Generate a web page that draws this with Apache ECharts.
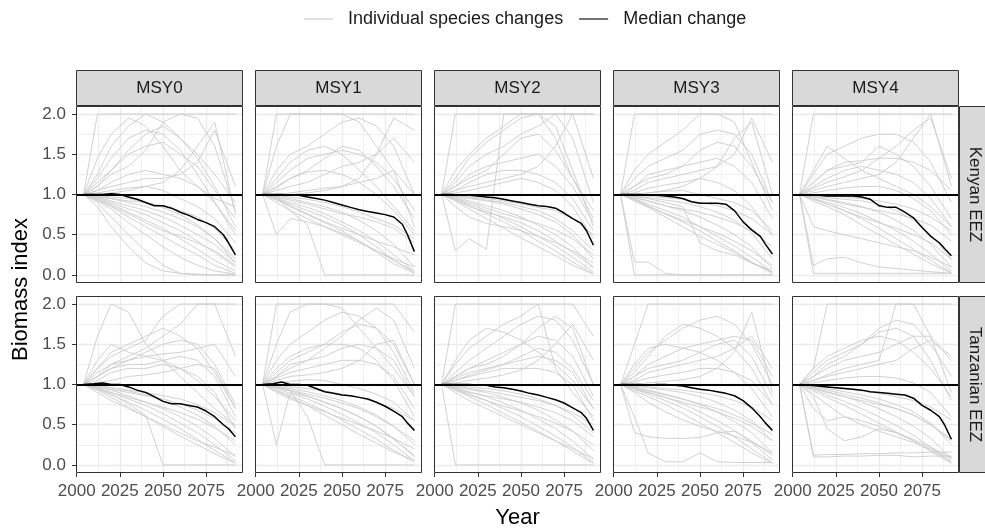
<!DOCTYPE html>
<html><head><meta charset="utf-8">
<script src="https://cdn.jsdelivr.net/npm/echarts@6/dist/echarts.min.js"></script>
<style>html,body{margin:0;padding:0;background:#fff}#chart{width:985px;height:530px}</style>
</head><body><div id="chart"></div>
<script>
// ---------------- data ----------------
const YEARS = [2004, 2012, 2020, 2030, 2040, 2050, 2060, 2070, 2080, 2092];
const MEDIAN_YEARS = [2004, 2010, 2015, 2020, 2025, 2030, 2035, 2040, 2045, 2050, 2055, 2060, 2065, 2070, 2075, 2080, 2085, 2088, 2092];
const MSY_LEVELS = ['MSY0', 'MSY1', 'MSY2', 'MSY3', 'MSY4'];
const REGIONS = ['Kenyan EEZ', 'Tanzanian EEZ'];
const X_TICKS = [2000, 2025, 2050, 2075];
const X_MINOR = [2012.5, 2037.5, 2062.5, 2087.5];
const Y_TICKS = [0, 0.5, 1, 1.5, 2];
const Y_MINOR = [0.25, 0.75, 1.25, 1.75];

const species_kenyan_msy0 = [
  [1.0, 2.0, 2.0, 2.0, 2.0, 2.0, 2.0, 2.0, 2.0, 2.0],
  [1.0, 1.45, 1.75, 1.95, 1.85, 1.6, 1.3, 1.1, 0.95, 0.85],
  [1.0, 1.2, 1.45, 1.7, 1.8, 1.75, 1.55, 1.25, 0.9, 0.5],
  [1.0, 1.15, 1.3, 1.5, 1.6, 1.65, 1.5, 1.35, 1.05, 0.7],
  [1.0, 1.1, 1.25, 1.35, 1.55, 1.9, 2.0, 1.95, 1.6, 0.8],
  [1.0, 1.05, 1.15, 1.25, 1.3, 1.25, 1.2, 1.1, 0.9, 0.55],
  [1.0, 1.05, 1.1, 1.15, 1.2, 1.2, 1.25, 1.4, 1.8, 1.1],
  [1.0, 1.02, 1.05, 1.08, 1.1, 1.05, 0.95, 0.85, 0.7, 0.4],
  [1.0, 1.0, 1.02, 1.05, 1.1, 1.15, 1.3, 1.6, 1.9, 0.75],
  [1.0, 0.98, 0.95, 0.9, 0.85, 0.78, 0.7, 0.6, 0.45, 0.2],
  [1.0, 0.96, 0.9, 0.82, 0.75, 0.65, 0.55, 0.42, 0.28, 0.1],
  [1.0, 0.95, 0.88, 0.78, 0.68, 0.58, 0.45, 0.32, 0.18, 0.05],
  [1.0, 0.93, 0.85, 0.72, 0.6, 0.48, 0.36, 0.25, 0.12, 0.02],
  [1.0, 0.92, 0.82, 0.65, 0.5, 0.35, 0.22, 0.12, 0.05, 0.01],
  [1.0, 0.9, 0.72, 0.5, 0.3, 0.12, 0.02, 0.0, 0.0, 0.0],
  [1.0, 0.97, 0.92, 0.86, 0.8, 0.72, 0.62, 0.5, 0.38, 0.15],
  [1.0, 0.85, 0.6, 0.35, 0.15, 0.05, 0.02, 0.01, 0.0, 0.0],
  [1.0, 0.99, 0.97, 0.95, 0.9, 0.84, 0.75, 0.62, 0.45, 0.15],
  [1.0, 0.94, 0.86, 0.76, 0.65, 0.55, 0.48, 0.4, 0.3, 0.12],
  [1.0, 1.1, 1.3, 1.55, 1.75, 1.85, 1.7, 1.45, 1.1, 0.6],
  [1.0, 1.25, 1.6, 1.85, 2.0, 1.9, 1.7, 1.5, 1.25, 0.9],
  [1.0, 0.97, 0.95, 0.92, 0.9, 0.86, 0.8, 0.72, 0.58, 0.3]
];
const species_kenyan_msy1 = [
  [1.0, 2.0, 2.0, 2.0, 2.0, 2.0, 2.0, 2.0, 2.0, 2.0],
  [1.0, 1.6, 2.0, 2.0, 2.0, 2.0, 1.9, 1.6, 1.3, 1.0],
  [1.0, 1.3, 1.5, 1.6, 1.75, 1.9, 1.95, 1.85, 1.6, 1.0],
  [1.0, 1.15, 1.3, 1.45, 1.5, 1.55, 1.5, 1.4, 1.2, 0.8],
  [1.0, 1.1, 1.2, 1.3, 1.45, 1.6, 1.55, 1.35, 1.1, 0.7],
  [1.0, 1.05, 1.1, 1.15, 1.25, 1.35, 1.4, 1.5, 1.7, 1.4],
  [1.0, 1.0, 1.02, 1.05, 1.08, 1.1, 1.15, 1.2, 1.3, 0.6],
  [1.0, 0.5, 0.7, 0.66, 0.6, 0.52, 0.42, 0.3, 0.18, 0.05],
  [1.0, 0.97, 0.8, 0.62, 0.0, 0.0, 0.0, 0.0, 0.0, 0.0],
  [1.0, 0.98, 0.95, 0.9, 0.85, 0.78, 0.68, 0.55, 0.38, 0.1],
  [1.0, 0.96, 0.9, 0.84, 0.76, 0.66, 0.55, 0.42, 0.25, 0.05],
  [1.0, 0.95, 0.88, 0.8, 0.72, 0.62, 0.5, 0.35, 0.18, 0.03],
  [1.0, 0.93, 0.85, 0.75, 0.65, 0.55, 0.42, 0.28, 0.14, 0.02],
  [1.0, 0.99, 0.97, 0.94, 0.9, 0.85, 0.78, 0.7, 0.62, 0.45],
  [1.0, 0.9, 0.8, 0.7, 0.6, 0.5, 0.4, 0.3, 0.2, 0.1],
  [1.0, 0.97, 0.93, 0.88, 0.82, 0.76, 0.72, 0.66, 0.58, 0.4],
  [1.0, 1.08, 1.2, 1.28, 1.3, 1.25, 1.15, 1.0, 0.8, 0.5],
  [1.0, 1.2, 1.4, 1.55, 1.6, 1.5, 1.3, 1.1, 0.85, 0.55],
  [1.0, 1.0, 1.0, 1.02, 1.05, 1.1, 1.2, 1.5, 1.95, 1.8],
  [1.0, 0.94, 0.86, 0.76, 0.66, 0.58, 0.5, 0.42, 0.35, 0.25]
];
const species_kenyan_msy2 = [
  [1.0, 2.0, 2.0, 2.0, 2.0, 2.0, 2.0, 2.0, 2.0, 2.0],
  [1.0, 0.3, 0.45, 0.32, 2.0, 2.0, 2.0, 2.0, 2.0, 2.0],
  [1.0, 1.3, 1.5, 1.7, 1.85, 2.0, 2.0, 1.7, 1.2, 0.7],
  [1.0, 1.15, 1.35, 1.5, 1.6, 1.75, 1.85, 2.0, 1.7, 0.9],
  [1.0, 1.1, 1.25, 1.35, 1.4, 1.45, 1.5, 1.35, 1.1, 0.65],
  [1.0, 1.05, 1.15, 1.25, 1.3, 1.3, 1.25, 1.15, 0.95, 0.55],
  [1.0, 1.05, 1.1, 1.15, 1.2, 1.25, 1.35, 1.6, 2.0, 1.2],
  [1.0, 1.02, 1.05, 1.1, 1.15, 1.2, 1.15, 1.05, 0.85, 0.45],
  [1.0, 0.98, 0.95, 0.92, 0.88, 0.82, 0.75, 0.66, 0.5, 0.2],
  [1.0, 0.97, 0.92, 0.86, 0.8, 0.72, 0.62, 0.5, 0.35, 0.08],
  [1.0, 0.95, 0.88, 0.8, 0.7, 0.6, 0.48, 0.36, 0.22, 0.04],
  [1.0, 0.94, 0.86, 0.76, 0.66, 0.55, 0.42, 0.3, 0.16, 0.02],
  [1.0, 0.92, 0.82, 0.7, 0.58, 0.46, 0.35, 0.24, 0.12, 0.01],
  [1.0, 0.85, 0.72, 0.64, 0.6, 0.55, 0.48, 0.4, 0.3, 0.15],
  [1.0, 0.99, 0.97, 0.95, 0.92, 0.88, 0.84, 0.8, 0.7, 0.5],
  [1.0, 0.96, 0.9, 0.83, 0.76, 0.7, 0.64, 0.56, 0.45, 0.25],
  [1.0, 1.1, 1.2, 1.3, 1.5, 1.7, 1.75, 1.55, 1.2, 0.8],
  [1.0, 0.93, 0.85, 0.78, 0.72, 0.65, 0.55, 0.42, 0.28, 0.1],
  [1.0, 1.2, 1.45, 1.65, 1.8, 1.95, 2.0, 1.85, 1.3, 0.6],
  [1.0, 0.98, 0.96, 0.93, 0.9, 0.85, 0.8, 0.7, 0.55, 0.3]
];
const species_kenyan_msy3 = [
  [1.0, 2.0, 2.0, 2.0, 2.0, 2.0, 2.0, 2.0, 2.0, 2.0],
  [1.0, 0.16, 0.16, 0.02, 0.0, 0.0, 0.0, 0.0, 0.0, 0.0],
  [1.0, 0.0, 0.0, 0.0, 0.0, 0.0, 0.0, 0.0, 0.0, 0.0],
  [1.0, 1.2, 1.35, 1.45, 1.55, 1.75, 1.8, 1.75, 1.5, 0.9],
  [1.0, 1.1, 1.25, 1.3, 1.35, 1.4, 1.45, 1.35, 1.15, 0.7],
  [1.0, 1.05, 1.15, 1.2, 1.25, 1.3, 1.35, 1.5, 1.95, 1.4],
  [1.0, 1.02, 1.08, 1.12, 1.15, 1.2, 1.15, 1.05, 0.85, 0.5],
  [1.0, 1.0, 1.02, 1.04, 1.05, 1.0, 0.95, 0.9, 0.8, 0.55],
  [1.0, 0.98, 0.96, 0.93, 0.9, 0.85, 0.78, 0.68, 0.52, 0.2],
  [1.0, 0.97, 0.92, 0.86, 0.8, 0.72, 0.62, 0.5, 0.35, 0.08],
  [1.0, 0.95, 0.88, 0.8, 0.72, 0.6, 0.48, 0.36, 0.22, 0.04],
  [1.0, 0.94, 0.86, 0.76, 0.66, 0.55, 0.42, 0.3, 0.16, 0.02],
  [1.0, 0.92, 0.84, 0.72, 0.6, 0.48, 0.38, 0.28, 0.15, 0.03],
  [1.0, 0.98, 0.95, 0.9, 0.85, 0.4, 0.3, 0.25, 0.15, 0.05],
  [1.0, 1.3, 1.5, 1.65, 1.8, 2.0, 2.0, 1.9, 1.4, 0.8],
  [1.0, 1.1, 1.2, 1.25, 1.35, 1.55, 1.65, 1.6, 1.35, 0.9],
  [1.0, 0.99, 0.98, 0.96, 0.94, 0.9, 0.86, 0.8, 0.7, 0.5],
  [1.0, 0.93, 0.85, 0.76, 0.68, 0.6, 0.52, 0.42, 0.3, 0.12],
  [1.0, 1.0, 1.02, 1.05, 1.1, 1.2, 1.35, 1.7, 1.9, 1.0],
  [1.0, 0.96, 0.92, 0.86, 0.82, 0.78, 0.72, 0.65, 0.55, 0.35]
];
const species_kenyan_msy4 = [
  [1.0, 2.0, 2.0, 2.0, 2.0, 2.0, 2.0, 2.0, 2.0, 2.0],
  [1.0, 0.02, 0.02, 0.02, 0.02, 0.02, 0.02, 0.02, 0.02, 0.02],
  [1.0, 0.12, 0.2, 0.22, 0.15, 0.1, 0.08, 0.06, 0.04, 0.02],
  [1.0, 1.25, 1.5, 1.6, 1.7, 1.75, 1.75, 1.65, 1.4, 0.9],
  [1.0, 1.15, 1.3, 1.4, 1.42, 1.45, 1.45, 1.4, 1.3, 1.05],
  [1.0, 1.1, 1.2, 1.3, 1.35, 1.3, 1.25, 1.15, 0.95, 0.6],
  [1.0, 1.05, 1.1, 1.15, 1.2, 1.25, 1.4, 1.7, 2.0, 1.1],
  [1.0, 1.02, 1.05, 1.08, 1.1, 1.1, 1.05, 0.95, 0.8, 0.5],
  [1.0, 0.98, 0.96, 0.94, 0.92, 0.88, 0.8, 0.68, 0.5, 0.2],
  [1.0, 0.97, 0.94, 0.9, 0.85, 0.78, 0.68, 0.55, 0.38, 0.1],
  [1.0, 0.95, 0.9, 0.84, 0.76, 0.66, 0.55, 0.42, 0.26, 0.05],
  [1.0, 0.94, 0.88, 0.8, 0.7, 0.58, 0.45, 0.32, 0.18, 0.03],
  [1.0, 0.92, 0.85, 0.75, 0.62, 0.5, 0.38, 0.26, 0.14, 0.02],
  [1.0, 0.6, 0.55, 0.5, 0.45, 0.4, 0.35, 0.3, 0.22, 0.1],
  [1.0, 0.99, 0.98, 0.97, 0.95, 0.92, 0.88, 0.82, 0.72, 0.55],
  [1.0, 1.3, 1.6, 1.45, 1.3, 1.2, 1.1, 1.0, 0.85, 0.6],
  [1.0, 1.08, 1.15, 1.22, 1.3, 1.45, 1.6, 1.8, 1.95, 1.2],
  [1.0, 0.95, 0.88, 0.8, 0.72, 0.65, 0.58, 0.5, 0.4, 0.2],
  [1.0, 0.97, 0.93, 0.88, 0.84, 0.8, 0.76, 0.7, 0.62, 0.42],
  [1.0, 1.15, 1.3, 1.35, 1.4, 1.6, 1.5, 1.35, 1.1, 0.7]
];
const species_tanzanian_msy0 = [
  [1.0, 1.6, 2.0, 1.9, 1.5, 1.3, 1.1, 0.9, 0.7, 0.5],
  [1.0, 1.2, 1.35, 1.45, 1.55, 1.85, 2.0, 2.0, 2.0, 2.0],
  [1.0, 1.1, 1.25, 1.35, 1.45, 1.6, 1.75, 2.0, 2.0, 1.35],
  [1.0, 1.15, 1.25, 1.3, 1.4, 1.5, 1.55, 1.5, 1.25, 0.75],
  [1.0, 1.1, 1.2, 1.25, 1.25, 1.3, 1.35, 1.3, 1.1, 0.6],
  [1.0, 1.05, 1.15, 1.2, 1.2, 1.25, 1.2, 1.1, 0.9, 0.45],
  [1.0, 1.02, 1.05, 1.1, 1.12, 1.15, 1.2, 1.25, 1.2, 0.7],
  [1.0, 0.95, 0.88, 0.76, 0.62, 0.0, 0.0, 0.0, 0.0, 0.0],
  [1.0, 0.99, 0.96, 0.92, 0.87, 0.8, 0.72, 0.62, 0.48, 0.25],
  [1.0, 0.97, 0.93, 0.86, 0.78, 0.7, 0.6, 0.48, 0.33, 0.1],
  [1.0, 0.96, 0.9, 0.82, 0.74, 0.64, 0.52, 0.4, 0.25, 0.05],
  [1.0, 0.94, 0.87, 0.78, 0.68, 0.57, 0.45, 0.32, 0.18, 0.03],
  [1.0, 0.93, 0.84, 0.72, 0.6, 0.48, 0.36, 0.25, 0.14, 0.02],
  [1.0, 0.97, 0.94, 0.9, 0.86, 0.82, 0.76, 0.68, 0.58, 0.4],
  [1.0, 0.9, 0.8, 0.7, 0.6, 0.5, 0.4, 0.3, 0.22, 0.12],
  [1.0, 1.2, 1.4, 1.5, 1.6, 1.7, 1.6, 1.45, 1.15, 0.7],
  [1.0, 1.1, 1.2, 1.3, 1.35, 1.38, 1.4, 1.45, 1.5, 1.1],
  [1.0, 0.98, 0.96, 0.93, 0.9, 0.86, 0.82, 0.75, 0.65, 0.48],
  [1.0, 0.95, 0.9, 0.84, 0.78, 0.72, 0.65, 0.57, 0.46, 0.3],
  [1.0, 1.3, 1.5, 1.4, 1.35, 1.3, 1.2, 1.05, 0.85, 0.55]
];
const species_tanzanian_msy1 = [
  [1.0, 2.0, 2.0, 2.0, 2.0, 2.0, 2.0, 2.0, 2.0, 1.65],
  [1.0, 0.25, 0.9, 0.85, 0.78, 0.7, 0.6, 0.48, 0.32, 0.12],
  [1.0, 0.97, 0.92, 0.6, 0.0, 0.0, 0.0, 0.0, 0.0, 0.0],
  [1.0, 1.3, 1.5, 1.65, 1.8, 1.9, 1.85, 1.7, 1.4, 0.9],
  [1.0, 1.15, 1.3, 1.4, 1.5, 1.65, 1.75, 1.7, 1.5, 1.0],
  [1.0, 1.1, 1.25, 1.3, 1.35, 1.45, 1.5, 1.45, 1.3, 0.85],
  [1.0, 1.08, 1.15, 1.2, 1.25, 1.3, 1.3, 1.25, 1.1, 0.7],
  [1.0, 1.05, 1.1, 1.12, 1.15, 1.2, 1.3, 1.5, 1.55, 1.0],
  [1.0, 1.02, 1.04, 1.06, 1.05, 1.0, 0.95, 0.88, 0.78, 0.55],
  [1.0, 0.98, 0.95, 0.91, 0.86, 0.8, 0.72, 0.62, 0.48, 0.25],
  [1.0, 0.96, 0.92, 0.86, 0.78, 0.7, 0.6, 0.48, 0.33, 0.1],
  [1.0, 0.95, 0.89, 0.82, 0.73, 0.63, 0.52, 0.4, 0.25, 0.05],
  [1.0, 0.93, 0.86, 0.77, 0.67, 0.56, 0.44, 0.32, 0.18, 0.03],
  [1.0, 0.92, 0.84, 0.74, 0.62, 0.5, 0.38, 0.27, 0.16, 0.06],
  [1.0, 0.97, 0.93, 0.88, 0.83, 0.77, 0.7, 0.6, 0.48, 0.3],
  [1.0, 0.99, 0.97, 0.95, 0.92, 0.88, 0.84, 0.78, 0.7, 0.55],
  [1.0, 0.9, 0.82, 0.74, 0.66, 0.58, 0.5, 0.42, 0.33, 0.2],
  [1.0, 1.2, 1.35, 1.45, 1.5, 1.5, 1.45, 1.3, 1.05, 0.6],
  [1.0, 1.1, 1.2, 1.3, 1.45, 1.6, 1.8, 1.95, 1.8, 1.2],
  [1.0, 1.5, 1.9, 2.0, 2.0, 1.95, 1.7, 1.45, 1.2, 0.85]
];
const species_tanzanian_msy2 = [
  [1.0, 2.0, 2.0, 2.0, 2.0, 2.0, 2.0, 2.0, 2.0, 1.6],
  [1.0, 0.0, 0.0, 0.0, 0.0, 0.0, 0.0, 0.0, 0.0, 0.0],
  [1.0, 1.25, 1.45, 1.6, 1.75, 1.85, 2.0, 1.2, 0.9, 0.6],
  [1.0, 1.15, 1.3, 1.45, 1.6, 1.75, 1.85, 1.8, 1.55, 1.0],
  [1.0, 1.1, 1.2, 1.3, 1.4, 1.5, 1.6, 1.55, 1.35, 0.85],
  [1.0, 1.08, 1.15, 1.2, 1.25, 1.3, 1.35, 1.3, 1.15, 0.7],
  [1.0, 1.05, 1.1, 1.15, 1.2, 1.2, 1.2, 1.15, 1.0, 0.55],
  [1.0, 1.02, 1.05, 1.08, 1.12, 1.18, 1.3, 1.5, 1.75, 1.3],
  [1.0, 0.99, 0.97, 0.95, 0.92, 0.88, 0.82, 0.74, 0.62, 0.4],
  [1.0, 0.97, 0.94, 0.9, 0.84, 0.77, 0.68, 0.56, 0.42, 0.18],
  [1.0, 0.96, 0.91, 0.85, 0.77, 0.68, 0.57, 0.45, 0.3, 0.07],
  [1.0, 0.94, 0.88, 0.8, 0.7, 0.6, 0.48, 0.36, 0.22, 0.03],
  [1.0, 0.93, 0.85, 0.75, 0.64, 0.53, 0.42, 0.3, 0.17, 0.02],
  [1.0, 0.95, 0.9, 0.86, 0.82, 0.78, 0.72, 0.65, 0.55, 0.35],
  [1.0, 0.9, 0.8, 0.7, 0.6, 0.5, 0.4, 0.3, 0.2, 0.08],
  [1.0, 0.98, 0.95, 0.92, 0.88, 0.84, 0.8, 0.74, 0.65, 0.5],
  [1.0, 1.3, 1.55, 1.7, 1.65, 1.55, 1.4, 1.25, 1.05, 0.7],
  [1.0, 1.1, 1.2, 1.25, 1.35, 1.5, 1.7, 1.85, 1.7, 1.0],
  [1.0, 0.94, 0.87, 0.8, 0.73, 0.67, 0.6, 0.52, 0.42, 0.25],
  [1.0, 1.05, 1.12, 1.18, 1.25, 1.35, 1.45, 1.4, 1.2, 0.8]
];
const species_tanzanian_msy3 = [
  [1.0, 1.5, 2.0, 2.0, 2.0, 2.0, 2.0, 2.0, 2.0, 2.0],
  [1.0, 0.6, 0.15, 0.04, 0.04, 0.15, 0.04, 0.03, 0.03, 0.03],
  [1.0, 0.4, 0.35, 0.33, 0.33, 0.34, 0.4, 0.42, 0.3, 0.12],
  [1.0, 1.2, 1.4, 1.55, 1.7, 1.8, 1.85, 1.75, 1.5, 1.0],
  [1.0, 1.1, 1.25, 1.35, 1.45, 1.5, 1.55, 1.6, 1.55, 1.1],
  [1.0, 1.05, 1.15, 1.2, 1.25, 1.3, 1.35, 1.45, 1.6, 1.2],
  [1.0, 1.03, 1.08, 1.12, 1.15, 1.2, 1.2, 1.15, 1.05, 0.75],
  [1.0, 1.0, 1.02, 1.04, 1.06, 1.1, 1.2, 1.4, 1.9, 0.9],
  [1.0, 0.98, 0.96, 0.93, 0.9, 0.85, 0.78, 0.68, 0.55, 0.3],
  [1.0, 0.97, 0.93, 0.88, 0.82, 0.75, 0.66, 0.54, 0.4, 0.15],
  [1.0, 0.95, 0.9, 0.84, 0.76, 0.66, 0.55, 0.43, 0.28, 0.06],
  [1.0, 0.94, 0.88, 0.8, 0.71, 0.6, 0.48, 0.35, 0.2, 0.03],
  [1.0, 0.92, 0.85, 0.75, 0.64, 0.52, 0.4, 0.28, 0.15, 0.02],
  [1.0, 0.99, 0.97, 0.95, 0.93, 0.9, 0.86, 0.8, 0.72, 0.55],
  [1.0, 0.96, 0.92, 0.87, 0.82, 0.76, 0.7, 0.62, 0.52, 0.38],
  [1.0, 1.25, 1.45, 1.5, 1.45, 1.4, 1.3, 1.15, 0.95, 0.6],
  [1.0, 1.1, 1.2, 1.25, 1.3, 1.4, 1.5, 1.55, 1.35, 0.85],
  [1.0, 0.9, 0.78, 0.66, 0.56, 0.48, 0.42, 0.36, 0.28, 0.15],
  [1.0, 0.95, 0.9, 0.84, 0.78, 0.72, 0.66, 0.58, 0.48, 0.3],
  [1.0, 1.15, 1.35, 1.6, 1.75, 1.7, 1.6, 1.45, 1.2, 0.75]
];
const species_tanzanian_msy4 = [
  [1.0, 1.2, 2.0, 2.0, 2.0, 2.0, 2.0, 2.0, 2.0, 2.0],
  [1.0, 0.12, 0.13, 0.13, 0.14, 0.14, 0.15, 0.15, 0.16, 0.16],
  [1.0, 0.1, 0.1, 0.11, 0.11, 0.12, 0.12, 0.1, 0.11, 0.11],
  [1.0, 0.85, 0.45, 0.3, 0.35, 0.45, 0.4, 0.3, 0.18, 0.05],
  [1.0, 1.15, 1.3, 1.4, 1.5, 1.65, 1.7, 1.6, 1.3, 0.8],
  [1.0, 1.1, 1.2, 1.3, 1.35, 1.4, 1.5, 1.6, 1.6, 1.3],
  [1.0, 1.05, 1.12, 1.2, 1.25, 1.3, 2.0, 2.0, 1.6, 0.9],
  [1.0, 1.05, 1.1, 1.15, 1.2, 1.25, 1.3, 1.45, 1.55, 1.35],
  [1.0, 1.02, 1.05, 1.08, 1.1, 1.1, 1.08, 1.02, 0.9, 0.6],
  [1.0, 0.98, 0.95, 0.91, 0.87, 0.82, 0.75, 0.66, 0.52, 0.25],
  [1.0, 0.96, 0.91, 0.85, 0.78, 0.7, 0.6, 0.48, 0.33, 0.08],
  [1.0, 0.94, 0.87, 0.79, 0.7, 0.6, 0.49, 0.37, 0.22, 0.03],
  [1.0, 0.92, 0.84, 0.74, 0.63, 0.52, 0.41, 0.3, 0.17, 0.02],
  [1.0, 0.88, 0.75, 0.6, 0.5, 0.42, 0.35, 0.28, 0.2, 0.08],
  [1.0, 0.99, 0.97, 0.95, 0.92, 0.89, 0.85, 0.8, 0.72, 0.56],
  [1.0, 0.97, 0.93, 0.88, 0.83, 0.77, 0.7, 0.62, 0.5, 0.3],
  [1.0, 1.2, 1.35, 1.45, 1.55, 1.6, 1.55, 1.4, 1.2, 0.85],
  [1.0, 0.7, 0.55, 0.6, 0.55, 0.48, 0.4, 0.32, 0.22, 0.1],
  [1.0, 1.1, 1.25, 1.35, 1.5, 1.7, 1.8, 1.75, 1.5, 1.1],
  [1.0, 0.95, 0.9, 0.85, 0.8, 0.75, 0.7, 0.62, 0.5, 0.32]
];

const median_kenyan_msy0 = [1.0, 1.0, 1.0, 1.01, 1.0, 0.97, 0.94, 0.9, 0.86, 0.86, 0.83, 0.78, 0.74, 0.69, 0.65, 0.6, 0.5, 0.4, 0.25];
const median_kenyan_msy1 = [1.0, 1.0, 1.0, 0.99, 0.99, 0.97, 0.95, 0.93, 0.9, 0.87, 0.84, 0.81, 0.79, 0.77, 0.75, 0.72, 0.63, 0.5, 0.29];
const median_kenyan_msy2 = [1.0, 1.0, 0.99, 0.99, 0.98, 0.97, 0.96, 0.94, 0.92, 0.9, 0.88, 0.86, 0.85, 0.83, 0.77, 0.7, 0.64, 0.55, 0.37];
const median_kenyan_msy3 = [1.0, 1.0, 1.0, 0.99, 0.99, 0.98, 0.97, 0.95, 0.91, 0.89, 0.89, 0.89, 0.88, 0.8, 0.66, 0.56, 0.48, 0.38, 0.26];
const median_kenyan_msy4 = [1.0, 0.99, 0.99, 0.98, 0.98, 0.98, 0.98, 0.97, 0.94, 0.86, 0.84, 0.84, 0.78, 0.71, 0.59, 0.48, 0.4, 0.33, 0.24];
const median_tanzanian_msy0 = [1.0, 1.01, 1.02, 1.0, 1.0, 0.97, 0.93, 0.9, 0.85, 0.79, 0.76, 0.76, 0.74, 0.72, 0.67, 0.6, 0.5, 0.45, 0.35];
const median_tanzanian_msy1 = [1.0, 1.01, 1.03, 1.0, 1.0, 0.99, 0.95, 0.91, 0.89, 0.87, 0.86, 0.84, 0.82, 0.78, 0.73, 0.67, 0.6, 0.52, 0.43];
const median_tanzanian_msy2 = [1.0, 1.0, 1.0, 1.0, 0.99, 0.99, 0.97, 0.96, 0.94, 0.92, 0.89, 0.87, 0.84, 0.81, 0.77, 0.71, 0.65, 0.58, 0.43];
const median_tanzanian_msy3 = [1.0, 1.0, 1.0, 0.99, 1.0, 1.0, 0.99, 0.98, 0.96, 0.94, 0.93, 0.91, 0.89, 0.86, 0.8, 0.71, 0.6, 0.52, 0.43];
const median_tanzanian_msy4 = [1.0, 0.99, 0.98, 0.97, 0.96, 0.95, 0.94, 0.93, 0.91, 0.9, 0.89, 0.88, 0.87, 0.83, 0.74, 0.68, 0.6, 0.5, 0.32];

// ---------------- layout ----------------
const FONT = '"Liberation Sans", Arial, Helvetica, sans-serif';
const COL_LEFT = [76, 255, 434, 613, 792];
const ROW_TOP = [106, 296];
const PANEL_W = 167, PANEL_H = 177;
const X_MIN = 1999.6, X_MAX = 2096.4, Y_MIN = -0.1, Y_MAX = 2.1;

const PANELS = [
  [species_kenyan_msy0, species_kenyan_msy1, species_kenyan_msy2, species_kenyan_msy3, species_kenyan_msy4],
  [species_tanzanian_msy0, species_tanzanian_msy1, species_tanzanian_msy2, species_tanzanian_msy3, species_tanzanian_msy4]
];
const MEDIANS = [
  [median_kenyan_msy0, median_kenyan_msy1, median_kenyan_msy2, median_kenyan_msy3, median_kenyan_msy4],
  [median_tanzanian_msy0, median_tanzanian_msy1, median_tanzanian_msy2, median_tanzanian_msy3, median_tanzanian_msy4]
];

const grid = [], xAxis = [], yAxis = [], series = [], graphic = [];
const GRID_MAJOR = '#ebebeb', GRID_MINOR = '#ebebeb';

for (let r = 0; r < 2; r++) {
  for (let c = 0; c < 5; c++) {
    const gi = grid.length;
    grid.push({ left: COL_LEFT[c], top: ROW_TOP[r], width: PANEL_W, height: PANEL_H, show: false });
    const bottomRow = r === 1, leftCol = c === 0;
    xAxis.push({
      type: 'value', gridIndex: gi, min: X_MIN, max: X_MAX, position: 'bottom',
      axisLine: { show: false, onZero: false },
      axisTick: { show: bottomRow, customValues: X_TICKS, length: 4, lineStyle: { color: '#333', width: 1 } },
      axisLabel: { show: bottomRow, customValues: X_TICKS, margin: 10, fontSize: 17, color: '#4d4d4d', fontFamily: FONT, formatter: v => String(Math.round(v)) },
      splitLine: { show: true, lineStyle: { color: GRID_MAJOR, width: 1.4 } }
    });
    xAxis.push({
      type: 'value', gridIndex: gi, min: X_MIN, max: X_MAX, position: 'top',
      axisLine: { show: false, onZero: false },
      axisTick: { show: false, customValues: X_MINOR },
      axisLabel: { show: false, customValues: X_MINOR },
      splitLine: { show: true, lineStyle: { color: GRID_MINOR, width: 0.8 } }
    });
    yAxis.push({
      type: 'value', gridIndex: gi, min: Y_MIN, max: Y_MAX, position: 'left',
      axisLine: { show: false, onZero: false },
      axisTick: { show: leftCol, customValues: Y_TICKS, length: 4, lineStyle: { color: '#333', width: 1 } },
      axisLabel: { show: leftCol, customValues: Y_TICKS, margin: 10, fontSize: 17, color: '#4d4d4d', fontFamily: FONT, formatter: v => v.toFixed(1) },
      splitLine: { show: true, lineStyle: { color: GRID_MAJOR, width: 1.4 } }
    });
    yAxis.push({
      type: 'value', gridIndex: gi, min: Y_MIN, max: Y_MAX, position: 'right',
      axisLine: { show: false, onZero: false },
      axisTick: { show: false, customValues: Y_MINOR },
      axisLabel: { show: false, customValues: Y_MINOR },
      splitLine: { show: true, lineStyle: { color: GRID_MINOR, width: 0.8 } }
    });
    const xi = gi * 2, yi = gi * 2;
    PANELS[r][c].forEach(vals => {
      series.push({
        type: 'line', name: 'Individual species changes', xAxisIndex: xi, yAxisIndex: yi,
        data: YEARS.map((yr, k) => [yr, vals[k]]),
        showSymbol: false, symbol: 'none', silent: true, z: 2,
        lineStyle: { color: '#cccccc', width: 0.9 }, itemStyle: { color: '#d6d6d6' }
      });
    });
    series.push({
      type: 'line', name: 'Median change', xAxisIndex: xi, yAxisIndex: yi,
      data: MEDIAN_YEARS.map((yr, k) => [yr, MEDIANS[r][c][k]]),
      showSymbol: false, symbol: 'none', silent: true, z: 5,
      lineStyle: { color: '#000', width: 1.5 }, itemStyle: { color: '#444' },
      markLine: {
        silent: true, symbol: ['none', 'none'], label: { show: false },
        lineStyle: { color: '#000', width: 1.8, type: 'solid' },
        data: [{ yAxis: 1 }], animation: false
      }
    });
    graphic.push({ type: 'rect', z: 100, silent: true,
      shape: { x: COL_LEFT[c] + 0.5, y: ROW_TOP[r] + 0.5, width: PANEL_W - 1, height: PANEL_H - 1 },
      style: { fill: 'none', stroke: '#333', lineWidth: 1 } });
  }
}
for (let c = 0; c < 5; c++) {
  graphic.push({ type: 'rect', z: 100, silent: true,
    shape: { x: COL_LEFT[c] + 0.5, y: 70.5, width: PANEL_W - 1, height: 35 },
    style: { fill: '#d9d9d9', stroke: '#333', lineWidth: 1 } });
  graphic.push({ type: 'text', z: 101, silent: true,
    style: { text: MSY_LEVELS[c], x: COL_LEFT[c] + PANEL_W / 2, y: 88, align: 'center', verticalAlign: 'middle',
      fontSize: 17, fontFamily: FONT, fill: '#1a1a1a' } });
}
for (let r = 0; r < 2; r++) {
  graphic.push({ type: 'rect', z: 100, silent: true,
    shape: { x: 959.5, y: ROW_TOP[r] + 0.5, width: 40, height: PANEL_H - 1 },
    style: { fill: '#d9d9d9', stroke: '#333', lineWidth: 1 } });
  graphic.push({ type: 'text', z: 101, silent: true, x: 975, y: ROW_TOP[r] + PANEL_H / 2, rotation: -Math.PI / 2,
    style: { text: REGIONS[r], x: 0, y: 0, align: 'center', verticalAlign: 'middle',
      fontSize: 17, fontFamily: FONT, fill: '#1a1a1a' } });
}
graphic.push({ type: 'text', z: 101, silent: true,
  style: { text: 'Year', x: 517.5, y: 518, align: 'center', verticalAlign: 'middle', fontSize: 22, fontFamily: FONT, fill: '#000' } });
graphic.push({ type: 'text', z: 101, silent: true, x: 21, y: 289.5, rotation: Math.PI / 2,
  style: { text: 'Biomass index', x: 0, y: 0, align: 'center', verticalAlign: 'middle', fontSize: 22, fontFamily: FONT, fill: '#000' } });

const chart = echarts.init(document.getElementById('chart'), null, { renderer: 'canvas' });
chart.setOption({
  animation: false,
  backgroundColor: '#ffffff',
  legend: {
    left: 299, top: 5, itemWidth: 29, itemHeight: 1.5, itemGap: 16, selectedMode: false, icon: 'rect',
    textStyle: { fontSize: 18, color: '#1a1a1a', fontFamily: FONT, padding: [0, 0, 0, 10] },
    data: ['Individual species changes', 'Median change']
  },
  grid, xAxis, yAxis, series, graphic
});
</script>
</body></html>
